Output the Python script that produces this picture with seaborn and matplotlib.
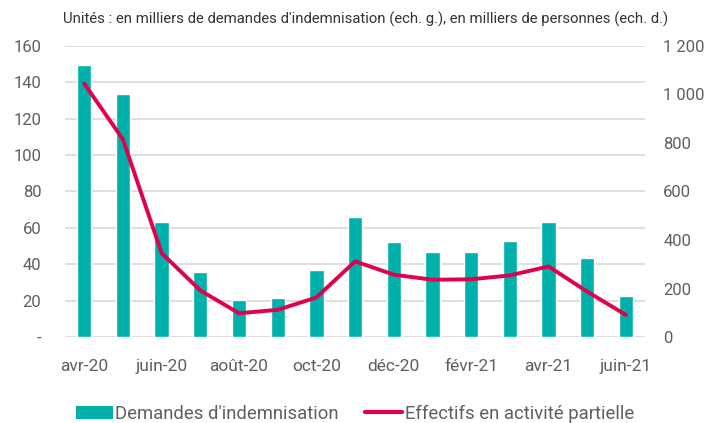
import numpy as np
import pandas as pd
import matplotlib
matplotlib.use("Agg")
import matplotlib.pyplot as plt
import seaborn as sns
from matplotlib.patches import Patch
from matplotlib.lines import Line2D

months = ["avr-20", "mai-20", "juin-20", "juil-20", "août-20", "sept-20", "oct-20", "nov-20",
          "déc-20", "janv-21", "févr-21", "mars-21", "avr-21", "mai-21", "juin-21"]
demandes = [149.5, 133.5, 63, 35.5, 20.3, 21.2, 37, 66, 52, 46.5, 46.5, 53, 63, 43.5, 22.3]
effectifs = [1045, 815, 346, 192, 98, 112, 163, 312, 257, 236, 238, 254, 291, 187, 91]

left_ticks = [0, 20, 40, 60, 80, 100, 120, 140, 160]
left_labels = ["-", "20", "40", "60", "80", "100", "120", "140", "160"]
right_ticks = [0, 200, 400, 600, 800, 1000, 1200]
right_labels = ["0", "200", "400", "600", "800", "1 000", "1 200"]

teal = "#00B0AA"
red = "#E0004D"
grey = "#5F5F5F"

sns.set_style("white")
plt.rcParams['font.family'] = ['Roboto', 'DejaVu Sans']

df = pd.DataFrame({"mois": months, "demandes": demandes, "effectifs": effectifs,
                   "pos": np.arange(len(months))})

fig = plt.figure(figsize=(7.21, 4.23), dpi=100)
ax = fig.add_axes([0.090, 0.2033, 0.805, 0.688])

sns.barplot(data=df, x="mois", y="demandes", color=teal, width=0.37, saturation=1, ax=ax)
ax.set_ylim(0, 160)
ax.set_xlim(-0.5, len(months) - 0.5)
ax.set_yticks(left_ticks)
ax.set_yticklabels(left_labels)
ax.yaxis.grid(True, color="#D9D9D9", linewidth=1.2)
ax.set_axisbelow(True)
ax.set_xticks(np.arange(0, len(months), 2))
ax.set_xticklabels(months[::2])
ax.set_xlabel("")
ax.set_ylabel("")
for s in ax.spines.values():
    s.set_visible(False)
ax.tick_params(axis="y", length=0, labelsize=12, colors=grey, pad=17)
ax.tick_params(axis="x", length=0, labelsize=12.5, colors=grey, pad=16)

ax2 = ax.twinx()
sns.lineplot(data=df, x="pos", y="effectifs", color=red, linewidth=2.8, ax=ax2)
ax2.set_ylim(0, 1200)
ax2.set_yticks(right_ticks)
ax2.set_yticklabels(right_labels)
ax2.set_ylabel("")
ax2.set_xlim(-0.5, len(months) - 0.5)
for s in ax2.spines.values():
    s.set_visible(False)
ax2.tick_params(axis="y", length=0, labelsize=12, colors=grey, pad=13)

fig.text(0.088, 0.955, "Unités : en milliers de demandes d'indemnisation (ech. g.), en milliers de personnes (ech. d.)",
         fontsize=10.7, color="#333333", ha="left", va="center")

handles = [Patch(facecolor=teal, edgecolor="none"),
           Line2D([0], [0], color=red, linewidth=3)]
fig.legend(handles, ["Demandes d'indemnisation", "Effectifs en activité partielle"],
           loc="center", bbox_to_anchor=(0.492, 0.022), ncol=2, frameon=False,
           fontsize=13.3, labelcolor=grey, handlelength=2.0, handletextpad=0.15, columnspacing=1.4)

fig.savefig("out.png", dpi=100)
